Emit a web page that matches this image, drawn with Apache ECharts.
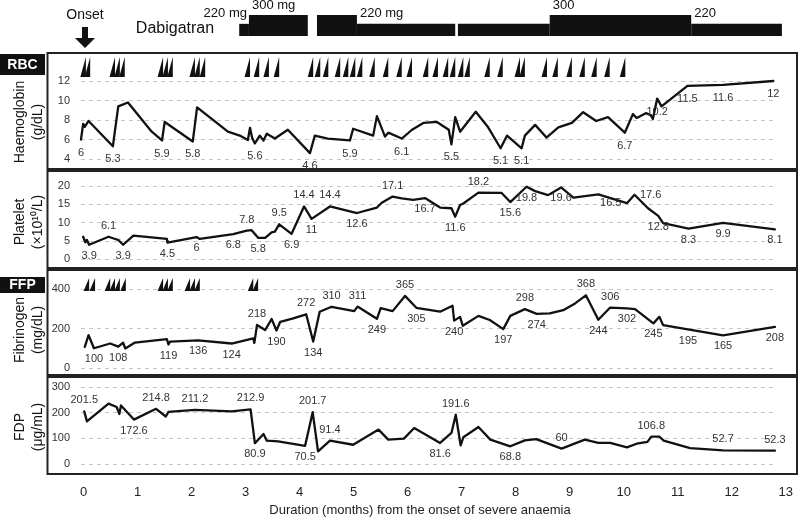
<!DOCTYPE html>
<html><head><meta charset="utf-8">
<script src="https://cdn.jsdelivr.net/npm/echarts@6/dist/echarts.min.js"></script>
<style>html,body{margin:0;padding:0;background:#fff}#c{width:800px;height:524px}</style>
</head><body><div id="c"></div>
<script>
// ---------------- data ----------------
const xTickLabels = ['0','1','2','3','4','5','6','7','8','9','10','11','12','13'];

// Dabigatran dosing periods: [start month, end month, dose mg]
const dabigatranPeriods = [[2.88,3.06,220],[3.06,4.15,300],[4.32,5.06,300],[5.06,6.88,220],[6.93,8.63,220],[8.63,11.25,300],[11.25,12.93,220]];
const dabigatranLabels = ['220 mg','300 mg','','220 mg','','300','220'];

// RBC / FFP transfusion times (months)
const rbcMonths = [0.04,0.12,0.58,0.67,0.76,1.47,1.56,1.65,2.06,2.15,2.25,3.08,3.25,3.43,3.62,4.25,4.38,4.53,4.75,4.9,5.03,5.16,5.39,5.64,5.89,6.08,6.38,6.56,6.75,6.88,7.03,7.15,7.52,7.76,8.08,8.17,8.58,8.78,9.04,9.28,9.5,9.74,10.03];
const ffpMonths = [0.10,0.21,0.49,0.58,0.67,0.78,1.47,1.56,1.65,1.97,2.06,2.15,3.14,3.23];

// Haemoglobin (g/dL)
const hbPoints = [[-0.05,6],[-0.01,7.6],[0.02,7.3],[0.09,7.9],[0.54,5.3],[0.64,9.4],[0.82,9.8],[1.26,6.8],[1.45,5.9],[1.5,7.8],[2.02,5.8],[2.10,9.3],[2.67,6.8],[2.89,6.4],[3.04,5.95],[3.08,7.2],[3.12,6.15],[3.17,5.6],[3.26,6.4],[3.33,5.9],[3.39,6.6],[3.54,6.1],[3.78,7.0],[4.19,4.6],[4.28,6.4],[4.52,6.1],[4.93,5.9],[4.99,7.1],[5.36,6.4],[5.43,8.4],[5.58,6.3],[5.64,6.7],[5.89,6.1],[6.08,7.0],[6.29,7.7],[6.54,7.8],[6.76,7.0],[6.81,5.5],[6.88,8.3],[6.97,6.8],[7.26,8.85],[7.49,7.25],[7.72,5.1],[7.84,6.4],[8.11,5.1],[8.17,6.4],[8.36,7.5],[8.57,6.2],[8.79,7.25],[9.04,7.7],[9.25,8.8],[9.49,7.9],[9.71,8.3],[10.02,6.7],[10.17,8.6],[10.24,8.2],[10.41,8.7],[10.5,8.5],[10.54,8.1],[10.62,10.2],[10.7,9.4],[11.18,11.5],[11.84,11.6],[12.77,12]];
const hbLabels = [[-0.05,'6'],[0.54,'5.3'],[1.45,'5.9'],[2.02,'5.8'],[3.17,'5.6'],[4.19,'4.6'],[4.93,'5.9'],[5.89,'6.1'],[6.81,'5.5'],[7.72,'5.1'],[8.11,'5.1'],[10.02,'6.7'],[10.62,'10.2'],[11.18,'11.5'],[11.84,'11.6'],[12.77,'12']];
const hbTicks = [4,6,8,10,12];

// Platelet (x10^10/L)
const pltPoints = [[-0.01,6.1],[0.03,4.6],[0.06,5.2],[0.1,3.9],[0.46,6.1],[0.64,5.2],[0.67,5.5],[0.73,3.9],[0.92,6.4],[1.54,5.5],[1.55,4.5],[1.57,5.0],[2.09,6.0],[2.15,5.5],[2.77,6.8],[3.02,7.8],[3.11,7.9],[3.23,5.8],[3.36,5.8],[3.48,7.3],[3.54,7.5],[3.62,9.5],[3.85,6.9],[4.08,14.4],[4.22,11],[4.56,14.4],[5.06,12.6],[5.43,14.1],[5.52,15.4],[5.72,17.1],[5.89,16.6],[6.1,16.2],[6.32,16.7],[6.6,14.1],[6.81,13.9],[6.88,11.6],[6.97,14.8],[7.03,15.2],[7.31,18.2],[7.74,18.1],[7.9,15.6],[8.2,19.8],[8.36,18.6],[8.6,17.5],[8.84,19.6],[9.07,16.8],[9.53,17.7],[10.06,15.3],[10.2,17.6],[10.45,13.9],[10.64,11.8],[10.73,9.8],[11.2,8.3],[11.84,9.9],[12.8,8.1]];
const pltLabels = [[0.1,'3.9'],[0.46,'6.1'],[0.73,'3.9'],[1.55,'4.5'],[2.09,'6'],[2.77,'6.8'],[3.02,'7.8'],[3.23,'5.8'],[3.62,'9.5'],[3.85,'6.9'],[4.08,'14.4'],[4.22,'11'],[4.56,'14.4'],[5.06,'12.6'],[5.72,'17.1'],[6.32,'16.7'],[6.88,'11.6'],[7.31,'18.2'],[7.9,'15.6'],[8.2,'19.8'],[8.84,'19.6'],[10.06,'16.5'],[10.2,'17.6'],[10.64,'12.8'],[11.2,'8.3'],[11.84,'9.9'],[12.8,'8.1']];
const pltLabelSide = ['bottom','top','bottom','bottom','bottom','bottom','top','bottom','top','bottom','top','bottom','top','bottom','top','bottom','bottom','top','bottom','bottom','bottom','left','right','bottom','bottom','bottom','bottom'];
const pltTicks = [0,5,10,15,20];

// Fibrinogen (mg/dL)
const fibPoints = [[0.02,107],[0.09,166],[0.19,100],[0.49,124],[0.64,108],[0.73,128],[0.77,99],[0.95,129],[1.54,146],[1.57,119],[1.6,134],[2.12,140],[2.74,124],[3.14,150],[3.16,127],[3.21,218],[3.36,192],[3.48,248],[3.57,190],[3.64,234],[3.88,251],[4.12,272],[4.25,134],[4.37,285],[4.59,310],[5.01,288],[5.07,311],[5.43,249],[5.5,303],[5.72,288],[5.95,365],[6.16,305],[6.6,285],[6.83,315],[6.86,240],[6.97,259],[7.02,214],[7.31,264],[7.52,243],[7.77,197],[7.9,264],[8.17,298],[8.39,274],[8.63,277],[8.88,293],[9.1,327],[9.3,368],[9.53,244],[9.75,306],[10.06,302],[10.21,298],[10.55,226],[10.66,259],[10.73,217],[11.19,195],[11.84,165],[12.8,208]];
const fibLabels = [[0.19,'100'],[0.64,'108'],[1.57,'119'],[2.12,'136'],[2.74,'124'],[3.21,'218'],[3.57,'190'],[4.12,'272'],[4.25,'134'],[4.59,'310'],[5.07,'311'],[5.43,'249'],[5.95,'365'],[6.16,'305'],[6.86,'240'],[7.77,'197'],[8.17,'298'],[8.39,'274'],[9.3,'368'],[9.53,'244'],[9.75,'306'],[10.06,'302'],[10.55,'245'],[11.19,'195'],[11.84,'165'],[12.8,'208']];
const fibLabelSide = ['bottom','bottom','bottom','bottom','bottom','top','bottom','top','bottom','top','top','bottom','top','bottom','bottom','bottom','top','bottom','top','bottom','top','bottom','bottom','bottom','bottom','bottom'];
const fibTicks = [0,200,400];

// FDP (ug/mL)
const fdpPoints = [[0.01,205],[0.06,166],[0.46,235],[0.61,222],[0.66,195],[0.69,228],[0.93,173],[1.34,215],[1.52,185],[1.57,203],[2.06,211],[2.74,205],[3.09,213],[3.17,81],[3.33,117],[3.39,91],[3.6,88],[4.1,71],[4.24,202],[4.34,49],[4.56,91],[4.99,75],[5.46,134],[5.64,95],[5.93,99],[6.12,140],[6.6,82],[6.81,121],[6.89,192],[6.98,73],[7.03,104],[7.31,144],[7.53,95],[7.9,69],[8.17,92],[8.38,97],[8.85,60],[9.28,95],[9.53,82],[9.75,82],[10.06,65],[10.24,79],[10.44,86],[10.51,107],[10.66,107],[10.74,91],[11.23,62],[11.84,53],[12.8,52]];
const fdpLabels = [[0.01,'201.5'],[0.93,'172.6'],[1.34,'214.8'],[2.06,'211.2'],[3.09,'212.9'],[3.17,'80.9'],[4.1,'70.5'],[4.24,'201.7'],[4.56,'91.4'],[6.6,'81.6'],[6.89,'191.6'],[7.9,'68.8'],[8.85,'60'],[10.51,'106.8'],[11.84,'52.7'],[12.8,'52.3']];
const fdpLabelSide = ['top','bottom','top','top','top','bottom','bottom','top','top','bottom','top','bottom','top','top','top','top'];
const fdpTicks = [0,100,200,300];

// ---------------- layout ----------------
const FONT = 'Liberation Sans, Arial, sans-serif';
const X_MIN = -0.05, PXM = 54, X_LEFT = 81;
const DABI_BASE = 110;
function grid(top, height, xMax) { return {left: X_LEFT, top: top, height: height, width: (xMax - X_MIN) * PXM}; }

function buildLine(points, labels, sides, dist) {
  const map = new Map(labels.map((l, i) => [l[0], {text: l[1], pos: sides ? sides[i] : 'bottom'}]));
  return points.map(p => {
    const l = map.get(p[0]);
    if (!l) return {value: p};
    return {value: p, label: {show: true, formatter: l.text, position: l.pos, distance: dist}};
  });
}

const chart = echarts.init(document.getElementById('c'), null, {renderer: 'canvas'});

const grids = [
  grid(15, 21, 13),      // 0 dabigatran
  grid(57, 20, 13),      // 1 RBC
  grid(81, 78, 12.8),    // 2 Hb
  grid(186, 73, 12.8),   // 3 platelet
  grid(278, 13, 13),     // 4 FFP
  grid(289, 79, 12.8),   // 5 fibrinogen
  grid(387, 77, 12.8),   // 6 FDP
  {left: X_LEFT + 0.05 * PXM, top: 476, height: 1, width: 13 * PXM} // 7 month axis
];

const xAxes = grids.map((g, i) => {
  if (i === 7) {
    return {gridIndex: 7, type: 'value', min: 0, max: 13, interval: 1,
      axisLine: {show: false}, axisTick: {show: false}, splitLine: {show: false},
      axisLabel: {margin: 9, fontSize: 13, color: '#222', fontFamily: FONT, formatter: v => xTickLabels[v]}};
  }
  const xMax = (i === 0 || i === 1 || i === 4) ? 13 : 12.8;
  return {gridIndex: i, type: 'value', min: X_MIN, max: xMax, show: false};
});

function valueAxis(gi, ticks) {
  const step = ticks[1] - ticks[0];
  return {gridIndex: gi, type: 'value', min: ticks[0], max: ticks[ticks.length - 1], interval: step,
    axisLine: {show: false}, axisTick: {show: false},
    axisLabel: {margin: 11, fontSize: 11, color: '#333', fontFamily: FONT},
    splitLine: {show: true, lineStyle: {color: '#c8c8c8', type: [4, 4], width: 1}}};
}
const yAxes = [
  {gridIndex: 0, type: 'value', min: DABI_BASE, max: 300, show: false},
  {gridIndex: 1, type: 'value', min: 0, max: 1, show: false},
  valueAxis(2, hbTicks),
  valueAxis(3, pltTicks),
  {gridIndex: 4, type: 'value', min: 0, max: 1, show: false},
  valueAxis(5, fibTicks),
  valueAxis(6, fdpTicks),
  {gridIndex: 7, type: 'value', min: 0, max: 1, show: false}
];

function triangleSeries(gi, months) {
  return {type: 'custom', xAxisIndex: gi, yAxisIndex: gi, data: months.map(m => [m]), encode: {x: 0},
    silent: true,
    renderItem: (params, api) => {
      const x = api.coord([api.value(0), 0])[0];
      const top = params.coordSys.y, bottom = top + params.coordSys.height;
      return {type: 'polygon', shape: {points: [[x - 5.5, bottom], [x, top], [x, bottom]]}, style: {fill: '#111'}};
    }};
}

function lineSeries(gi, data) {
  return {type: 'line', xAxisIndex: gi, yAxisIndex: gi, data: data, symbol: 'circle', symbolSize: 1, showSymbol: true,
    clip: false, itemStyle: {color: '#111'}, lineStyle: {color: '#111', width: 2.3, join: 'round', cap: 'round'}, silent: true,
    label: {show: false, fontSize: 11, color: '#333', fontFamily: FONT}, labelLayout: {hideOverlap: false}};
}

const textStyle = (t, x, y, size, extra) => Object.assign({text: t, x: x, y: y, font: size + 'px ' + FONT, fill: '#111',
  align: 'center', textAlign: 'center', verticalAlign: 'middle', textVerticalAlign: 'middle'}, extra || {});

const frame = {fill: 'none', stroke: '#222', lineWidth: 2};
const graphic = [
  {type: 'rect', shape: {x: 47.5, y: 53, width: 749.5, height: 116}, style: frame},
  {type: 'rect', shape: {x: 47.5, y: 171, width: 749.5, height: 97}, style: frame},
  {type: 'rect', shape: {x: 47.5, y: 270, width: 749.5, height: 105}, style: frame},
  {type: 'rect', shape: {x: 47.5, y: 377, width: 749.5, height: 97}, style: frame},
  {type: 'rect', shape: {x: 0, y: 54, width: 45, height: 21}, style: {fill: '#111'}},
  {type: 'text', style: textStyle('RBC', 22.5, 65, 14, {fill: '#fff', font: 'bold 14px ' + FONT})},
  {type: 'rect', shape: {x: 0, y: 277, width: 45, height: 16}, style: {fill: '#111'}},
  {type: 'text', style: textStyle('FFP', 22.5, 285, 14, {fill: '#fff', font: 'bold 14px ' + FONT})},
  {type: 'text', x: 29, y: 122, rotation: Math.PI / 2, style: textStyle('Haemoglobin\n(g/dL)', 0, 0, 14, {lineHeight: 18})},
  {type: 'text', x: 29, y: 222, rotation: Math.PI / 2, style: textStyle('Platelet\n(\u00d710\u00b9\u2070/L)', 0, 0, 14, {lineHeight: 18})},
  {type: 'text', x: 29, y: 330, rotation: Math.PI / 2, style: textStyle('Fibrinogen\n(mg/dL)', 0, 0, 14, {lineHeight: 18})},
  {type: 'text', x: 29, y: 427, rotation: Math.PI / 2, style: textStyle('FDP\n(\u03bcg/mL)', 0, 0, 14, {lineHeight: 18})},
  {type: 'text', style: textStyle('Onset', 85, 15, 14)},
  {type: 'polygon', shape: {points: [[82, 27], [88, 27], [88, 38], [95, 38], [85, 48], [75, 38], [82, 38]]}, style: {fill: '#111'}},
  {type: 'text', style: textStyle('Dabigatran', 175, 29, 16)},
  {type: 'text', style: textStyle('Duration (months) from the onset of severe anaemia', 420, 510, 13, {fill: '#222'})}
];

const series = [
  {type: 'custom', xAxisIndex: 0, yAxisIndex: 0, data: dabigatranPeriods, encode: {x: [0, 1], y: 2}, silent: true,
    renderItem: (params, api) => {
      const s = api.value(0), e = api.value(1), d = api.value(2);
      const p0 = api.coord([s, d]), p1 = api.coord([e, DABI_BASE]);
      const children = [{type: 'rect', shape: {x: p0[0], y: p0[1], width: p1[0] - p0[0], height: p1[1] - p0[1]}, style: {fill: '#111'}}];
      const t = dabigatranLabels[params.dataIndex];
      if (t) {
        const first = params.dataIndex === 0;
        children.push({type: 'text', style: textStyle(t, first ? p1[0] - 2 : p0[0] + 3, p0[1] - 10, 13,
          {align: first ? 'right' : 'left', textAlign: first ? 'right' : 'left'})});
      }
      return {type: 'group', children: children};
    }},
  triangleSeries(1, rbcMonths),
  triangleSeries(4, ffpMonths),
  lineSeries(2, buildLine(hbPoints, hbLabels, null, 7)),
  lineSeries(3, buildLine(pltPoints, pltLabels, pltLabelSide, 5)),
  lineSeries(5, buildLine(fibPoints, fibLabels, fibLabelSide, 5)),
  lineSeries(6, buildLine(fdpPoints, fdpLabels, fdpLabelSide, 5))
];

chart.setOption({animation: false, backgroundColor: '#fff', grid: grids, xAxis: xAxes, yAxis: yAxes, series: series, graphic: graphic});
</script></body></html>
